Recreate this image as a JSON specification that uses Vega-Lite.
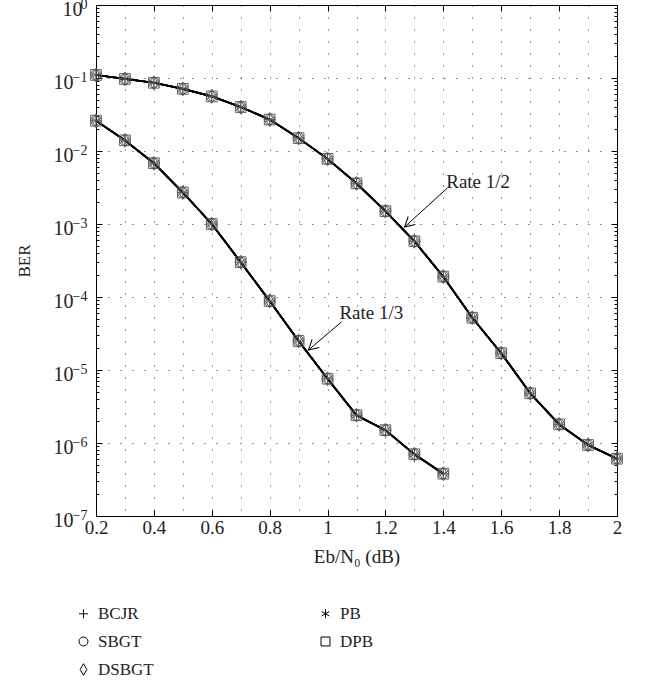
{
  "$schema": "https://vega.github.io/schema/vega-lite/v6.json",
  "width": 521,
  "height": 511,
  "autosize": {"type": "none"},
  "padding": {"left": 96, "top": 5, "right": 31, "bottom": 167},
  "background": "#ffffff",
  "config": {
    "view": {"stroke": "#000000", "strokeWidth": 1},
    "font": "Liberation Serif",
    "axis": {
      "labelFont": "Liberation Serif",
      "titleFont": "Liberation Serif",
      "labelColor": "#222222",
      "titleColor": "#222222",
      "tickColor": "#000000",
      "domain": false,
      "labelFlush": false,
      "labelOverlap": false,
      "titleFontWeight": "normal"
    }
  },
  "datasets": {
    "ber": [
      {"rate": "1/2", "ebn0": 0.2, "BCJR": 0.11, "SBGT": 0.11, "DSBGT": 0.11, "PB": 0.11, "DPB": 0.11},
      {"rate": "1/2", "ebn0": 0.3, "BCJR": 0.097, "SBGT": 0.097, "DSBGT": 0.097, "PB": 0.097, "DPB": 0.097},
      {"rate": "1/2", "ebn0": 0.4, "BCJR": 0.086, "SBGT": 0.086, "DSBGT": 0.086, "PB": 0.086, "DPB": 0.086},
      {"rate": "1/2", "ebn0": 0.5, "BCJR": 0.071, "SBGT": 0.071, "DSBGT": 0.071, "PB": 0.071, "DPB": 0.071},
      {"rate": "1/2", "ebn0": 0.6, "BCJR": 0.056, "SBGT": 0.056, "DSBGT": 0.056, "PB": 0.056, "DPB": 0.056},
      {"rate": "1/2", "ebn0": 0.7, "BCJR": 0.040, "SBGT": 0.040, "DSBGT": 0.040, "PB": 0.040, "DPB": 0.040},
      {"rate": "1/2", "ebn0": 0.8, "BCJR": 0.027, "SBGT": 0.027, "DSBGT": 0.027, "PB": 0.027, "DPB": 0.027},
      {"rate": "1/2", "ebn0": 0.9, "BCJR": 0.015, "SBGT": 0.015, "DSBGT": 0.015, "PB": 0.015, "DPB": 0.015},
      {"rate": "1/2", "ebn0": 1.0, "BCJR": 0.0078, "SBGT": 0.0078, "DSBGT": 0.0078, "PB": 0.0078, "DPB": 0.0078},
      {"rate": "1/2", "ebn0": 1.1, "BCJR": 0.0036, "SBGT": 0.0036, "DSBGT": 0.0036, "PB": 0.0036, "DPB": 0.0036},
      {"rate": "1/2", "ebn0": 1.2, "BCJR": 0.0015, "SBGT": 0.0015, "DSBGT": 0.0015, "PB": 0.0015, "DPB": 0.0015},
      {"rate": "1/2", "ebn0": 1.3, "BCJR": 0.00058, "SBGT": 0.00058, "DSBGT": 0.00058, "PB": 0.00058, "DPB": 0.00058},
      {"rate": "1/2", "ebn0": 1.4, "BCJR": 0.00019, "SBGT": 0.00019, "DSBGT": 0.00019, "PB": 0.00019, "DPB": 0.00019},
      {"rate": "1/2", "ebn0": 1.5, "BCJR": 0.000052, "SBGT": 0.000052, "DSBGT": 0.000052, "PB": 0.000052, "DPB": 0.000052},
      {"rate": "1/2", "ebn0": 1.6, "BCJR": 0.000017, "SBGT": 0.000017, "DSBGT": 0.000017, "PB": 0.000017, "DPB": 0.000017},
      {"rate": "1/2", "ebn0": 1.7, "BCJR": 0.0000048, "SBGT": 0.0000048, "DSBGT": 0.0000048, "PB": 0.0000048, "DPB": 0.0000048},
      {"rate": "1/2", "ebn0": 1.8, "BCJR": 0.0000018, "SBGT": 0.0000018, "DSBGT": 0.0000018, "PB": 0.0000018, "DPB": 0.0000018},
      {"rate": "1/2", "ebn0": 1.9, "BCJR": 0.00000094, "SBGT": 0.00000094, "DSBGT": 0.00000094, "PB": 0.00000094, "DPB": 0.00000094},
      {"rate": "1/2", "ebn0": 2.0, "BCJR": 0.00000061, "SBGT": 0.00000061, "DSBGT": 0.00000061, "PB": 0.00000061, "DPB": 0.00000061},
      {"rate": "1/3", "ebn0": 0.2, "BCJR": 0.026, "SBGT": 0.026, "DSBGT": 0.026, "PB": 0.026, "DPB": 0.026},
      {"rate": "1/3", "ebn0": 0.3, "BCJR": 0.014, "SBGT": 0.014, "DSBGT": 0.014, "PB": 0.014, "DPB": 0.014},
      {"rate": "1/3", "ebn0": 0.4, "BCJR": 0.0068, "SBGT": 0.0068, "DSBGT": 0.0068, "PB": 0.0068, "DPB": 0.0068},
      {"rate": "1/3", "ebn0": 0.5, "BCJR": 0.0027, "SBGT": 0.0027, "DSBGT": 0.0027, "PB": 0.0027, "DPB": 0.0027},
      {"rate": "1/3", "ebn0": 0.6, "BCJR": 0.001, "SBGT": 0.001, "DSBGT": 0.001, "PB": 0.001, "DPB": 0.001},
      {"rate": "1/3", "ebn0": 0.7, "BCJR": 0.0003, "SBGT": 0.0003, "DSBGT": 0.0003, "PB": 0.0003, "DPB": 0.0003},
      {"rate": "1/3", "ebn0": 0.8, "BCJR": 0.000088, "SBGT": 0.000088, "DSBGT": 0.000088, "PB": 0.000088, "DPB": 0.000088},
      {"rate": "1/3", "ebn0": 0.9, "BCJR": 0.000025, "SBGT": 0.000025, "DSBGT": 0.000025, "PB": 0.000025, "DPB": 0.000025},
      {"rate": "1/3", "ebn0": 1.0, "BCJR": 0.0000076, "SBGT": 0.0000076, "DSBGT": 0.0000076, "PB": 0.0000076, "DPB": 0.0000076},
      {"rate": "1/3", "ebn0": 1.1, "BCJR": 0.0000024, "SBGT": 0.0000024, "DSBGT": 0.0000024, "PB": 0.0000024, "DPB": 0.0000024},
      {"rate": "1/3", "ebn0": 1.2, "BCJR": 0.0000015, "SBGT": 0.0000015, "DSBGT": 0.0000015, "PB": 0.0000015, "DPB": 0.0000015},
      {"rate": "1/3", "ebn0": 1.3, "BCJR": 0.0000007, "SBGT": 0.0000007, "DSBGT": 0.0000007, "PB": 0.0000007, "DPB": 0.0000007},
      {"rate": "1/3", "ebn0": 1.4, "BCJR": 0.00000038, "SBGT": 0.00000038, "DSBGT": 0.00000038, "PB": 0.00000038, "DPB": 0.00000038}
    ],
    "notes": [
      {"label": "Rate 1/2", "tailX": 1.414, "tailY": 0.00311, "tipX": 1.266, "tipY": 0.00091, "textX": 1.41, "textY": 0.00376},
      {"label": "Rate 1/3", "tailX": 1.048, "tailY": 0.0000455, "tipX": 0.934, "tipY": 0.0000188, "textX": 1.041, "textY": 0.0000604}
    ]
  },
  "resolve": {"axis": {"x": "independent", "y": "independent"}},
  "layer": [
    {
      "data": {"name": "ber"},
      "transform": [{"fold": ["BCJR", "SBGT", "DSBGT", "PB", "DPB"], "as": ["algorithm", "value"]}],
      "mark": {"type": "line", "color": "#000000", "strokeWidth": 1.7, "clip": true},
      "encoding": {
        "x": {
          "field": "ebn0", "type": "quantitative",
          "scale": {"domain": [0.2, 2], "nice": false, "zero": false},
          "axis": {
            "orient": "bottom",
            "values": [0.2, 0.4, 0.6, 0.8, 1, 1.2, 1.4, 1.6, 1.8, 2],
            "format": "~g",
            "tickSize": -6,
            "labelPadding": 8,
            "labelFontSize": 19,
            "grid": false,
            "title": "Eb/N₀ (dB)",
            "titleFontSize": 19,
            "titlePadding": 10
          }
        },
        "y": {
          "field": "value", "type": "quantitative",
          "scale": {"type": "log", "domain": [1e-7, 1], "nice": false},
          "axis": {
            "orient": "left",
            "values": [1e-7, 1e-6, 1e-5, 1e-4, 0.001, 0.01, 0.1, 1],
            "labelExpr": "'10'",
            "tickSize": -6,
            "labelPadding": {"condition": {"test": "datum.value == 1", "value": 20}, "value": 29},
            "labelOffset": 4,
            "labelFontSize": 20,
            "grid": true,
            "gridColor": "#000000",
            "gridDash": [1, 11],
            "gridOpacity": 0.8,
            "title": "BER",
            "titleFontSize": 17,
            "titlePadding": 20
          }
        },
        "detail": [{"field": "rate"}, {"field": "algorithm"}]
      }
    },
    {
      "data": {"name": "ber"},
      "transform": [{"fold": ["BCJR", "SBGT", "DSBGT", "PB", "DPB"], "as": ["algorithm", "value"]}],
      "mark": {"type": "point", "filled": false, "stroke": "#555555", "strokeWidth": 0.9, "size": 115, "opacity": 1},
      "encoding": {
        "x": {
          "field": "ebn0", "type": "quantitative",
          "axis": {
            "orient": "top",
            "values": [0.2, 0.4, 0.6, 0.8, 1, 1.2, 1.4, 1.6, 1.8, 2],
            "labels": false, "tickSize": -6, "grid": false, "title": null
          }
        },
        "y": {
          "field": "value", "type": "quantitative",
          "axis": {
            "orient": "right",
            "values": [1e-7, 1e-6, 1e-5, 1e-4, 0.001, 0.01, 0.1, 1],
            "labels": false, "tickSize": -6, "grid": false, "title": null
          }
        },
        "shape": {
          "field": "algorithm", "type": "nominal",
          "scale": {
            "domain": ["BCJR", "SBGT", "DSBGT", "PB", "DPB"],
            "range": [
              "M-1,0L1,0M0,-1L0,1",
              "circle",
              "M0,-1.3L0.75,0L0,1.3L-0.75,0Z",
              "M0,-1L0,1M-0.87,-0.5L0.87,0.5M-0.87,0.5L0.87,-0.5",
              "square"
            ]
          },
          "legend": {
            "orient": "none",
            "legendX": -21,
            "legendY": 600,
            "direction": "vertical",
            "columns": 2,
            "columnPadding": 163,
            "rowPadding": 10,
            "title": null,
            "labelFont": "Liberation Serif",
            "labelFontSize": 17,
            "labelColor": "#222222",
            "labelOffset": 6,
            "symbolStrokeColor": "#000000",
            "symbolFillColor": "transparent",
            "symbolStrokeWidth": 1,
            "symbolSize": 80
          }
        }
      }
    },
    {
      "data": {"name": "notes"},
      "mark": {"type": "rule", "color": "#000000", "strokeWidth": 1},
      "encoding": {
        "x": {
          "field": "tailX", "type": "quantitative",
          "axis": {
            "orient": "bottom",
            "values": [0.3, 0.4, 0.5, 0.6, 0.7, 0.8, 0.9, 1.0, 1.1, 1.2, 1.3, 1.4, 1.5, 1.6, 1.7, 1.8, 1.9],
            "labels": false, "ticks": false, "domain": false, "title": null,
            "grid": true, "gridColor": "#000000", "gridDash": [1, 11], "gridOpacity": 0.8
          }
        },
        "y": {
          "field": "tailY", "type": "quantitative",
          "axis": {
            "orient": "left",
            "values": [2e-7, 3e-7, 4e-7, 5e-7, 6e-7, 7e-7, 8e-7, 9e-7, 2e-6, 3e-6, 4e-6, 5e-6, 6e-6, 7e-6, 8e-6, 9e-6, 2e-5, 3e-5, 4e-5, 5e-5, 6e-5, 7e-5, 8e-5, 9e-5, 2e-4, 3e-4, 4e-4, 5e-4, 6e-4, 7e-4, 8e-4, 9e-4, 0.002, 0.003, 0.004, 0.005, 0.006, 0.007, 0.008, 0.009, 0.02, 0.03, 0.04, 0.05, 0.06, 0.07, 0.08, 0.09, 0.2, 0.3, 0.4, 0.5, 0.6, 0.7, 0.8, 0.9],
            "labels": false, "tickSize": -3, "grid": false, "title": null
          }
        },
        "x2": {"field": "tipX"},
        "y2": {"field": "tipY"}
      }
    },
    {
      "data": {"name": "notes"},
      "mark": {"type": "point", "shape": "M-1,-0.55L0,0L-1,0.55", "filled": false, "stroke": "#000000", "strokeWidth": 1, "size": 380, "angle": 138, "opacity": 1},
      "encoding": {
        "x": {"field": "tipX", "type": "quantitative", "axis": null},
        "y": {
          "field": "tipY", "type": "quantitative",
          "axis": {
            "orient": "right",
            "values": [2e-7, 3e-7, 4e-7, 5e-7, 6e-7, 7e-7, 8e-7, 9e-7, 2e-6, 3e-6, 4e-6, 5e-6, 6e-6, 7e-6, 8e-6, 9e-6, 2e-5, 3e-5, 4e-5, 5e-5, 6e-5, 7e-5, 8e-5, 9e-5, 2e-4, 3e-4, 4e-4, 5e-4, 6e-4, 7e-4, 8e-4, 9e-4, 0.002, 0.003, 0.004, 0.005, 0.006, 0.007, 0.008, 0.009, 0.02, 0.03, 0.04, 0.05, 0.06, 0.07, 0.08, 0.09, 0.2, 0.3, 0.4, 0.5, 0.6, 0.7, 0.8, 0.9],
            "labels": false, "tickSize": -3, "grid": false, "title": null
          }
        }
      }
    },
    {
      "data": {"name": "notes"},
      "mark": {"type": "text", "align": "left", "baseline": "middle", "font": "Liberation Serif", "fontSize": 19, "color": "#222222"},
      "encoding": {
        "x": {"field": "textX", "type": "quantitative", "axis": null},
        "y": {
          "field": "textY", "type": "quantitative",
          "axis": {
            "orient": "left",
            "values": [1e-7, 1e-6, 1e-5, 1e-4, 0.001, 0.01, 0.1, 1],
            "labelExpr": "['0','−1','−2','−3','−4','−5','−6','−7'][round(-log(datum.value)/LN10)]",
            "ticks": false,
            "grid": false,
            "labelPadding": 9,
            "labelOffset": -1,
            "labelFontSize": 14,
            "title": null
          }
        },
        "text": {"field": "label"}
      }
    }
  ]
}
